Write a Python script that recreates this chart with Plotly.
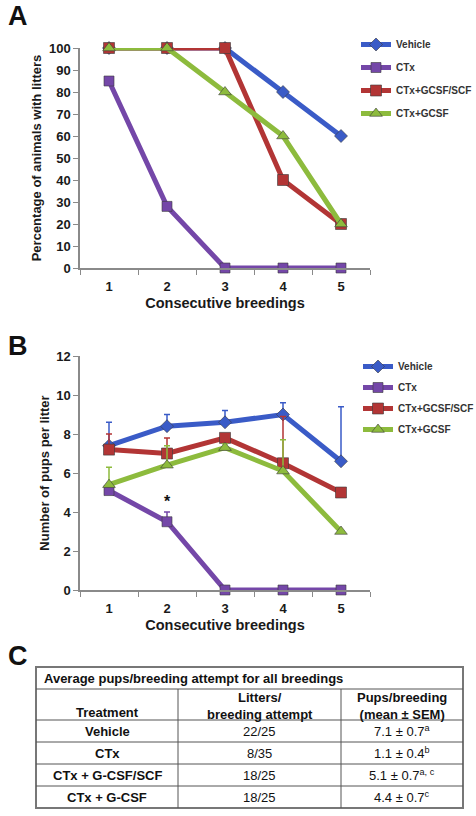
import plotly.graph_objects as go

# ---------------- data ----------------
breedings = [1, 2, 3, 4, 5]
series_names = ["Vehicle", "CTx", "CTx+GCSF/SCF", "CTx+GCSF"]

pct_vehicle = [100, 100, 100, 80, 60]
pct_ctx = [85, 28, 0, 0, 0]
pct_gcsf_scf = [100, 100, 100, 40, 20]
pct_gcsf = [100, 100, 80, 60, 20]

pups_vehicle = [7.4, 8.4, 8.6, 9.0, 6.6]
pups_vehicle_err = [1.2, 0.6, 0.6, 0.6, 2.8]
pups_ctx = [5.1, 3.5, 0, 0, 0]
pups_ctx_err = [0.0, 0.5, 0, 0, 0]
pups_gcsf_scf = [7.2, 7.0, 7.8, 6.5, 5.0]
pups_gcsf_scf_err = [0.8, 0.8, 0.2, 2.4, 0.0]
pups_gcsf = [5.4, 6.4, 7.3, 6.1, 3.0]
pups_gcsf_err = [0.9, 1.0, 0.2, 1.6, 0.0]

table_title = "Average pups/breeding attempt for all breedings"
table_headers = ["Treatment", "Litters/<br>breeding attempt", "Pups/breeding<br>(mean ± SEM)"]
table_treatments = ["Vehicle", "CTx", "CTx + G-CSF/SCF", "CTx + G-CSF"]
table_litters = ["22/25", "8/35", "18/25", "18/25"]
table_pups = ["7.1 ± 0.7", "1.1 ± 0.4", "5.1 ± 0.7", "4.4 ± 0.7"]
table_sup = ["a", "b", "a, c", "c"]

# ---------------- style ----------------
W, H = 476, 816
FONT = "Arial, Liberation Sans, sans-serif"
colors = ["#3a5bc7", "#7447a8", "#b23535", "#8dbb3d"]
symbols = ["diamond", "square", "square", "triangle-up"]
sizes = [10, 10, 11, 11]


def px(x):
    return x / W


def py(y):
    return 1 - y / H


fig = go.Figure()

pct_sets = [pct_vehicle, pct_ctx, pct_gcsf_scf, pct_gcsf]
pup_sets = [pups_vehicle, pups_ctx, pups_gcsf_scf, pups_gcsf]
err_sets = [pups_vehicle_err, pups_ctx_err, pups_gcsf_scf_err, pups_gcsf_err]

for i, name in enumerate(series_names):
    fig.add_trace(go.Scatter(
        x=breedings, y=pct_sets[i], name=name, mode="lines+markers",
        line=dict(color=colors[i], width=5),
        marker=dict(symbol=symbols[i], size=sizes[i], color=colors[i],
                    line=dict(color="rgba(60,60,60,0.6)", width=1)),
        cliponaxis=False, xaxis="x", yaxis="y", legend="legend",
        legendgroup="a" + str(i),
    ))

for i, name in enumerate(series_names):
    fig.add_trace(go.Scatter(
        x=breedings, y=pup_sets[i], name=name, mode="lines+markers",
        line=dict(color=colors[i], width=5),
        marker=dict(symbol=symbols[i], size=sizes[i], color=colors[i],
                    line=dict(color="rgba(60,60,60,0.6)", width=1)),
        error_y=dict(type="data", symmetric=False, array=err_sets[i],
                     arrayminus=[0] * 5, color=colors[i], thickness=1.5, width=3),
        cliponaxis=False, xaxis="x2", yaxis="y2", legend="legend2",
        legendgroup="b" + str(i),
    ))

axis_common = dict(
    showline=True, linecolor="#8a8a8a", linewidth=1.5, showgrid=False,
    zeroline=False, automargin=False,
    tickfont=dict(family=FONT, size=13, color="#1a1a1a", weight="bold"),
)

xaxis_common = dict(
    axis_common, range=[0.5, 5.5], tickmode="array", tickvals=breedings,
    ticktext=[str(b) for b in breedings],
    ticks="", ticklen=0, ticklabelstandoff=6,
    minor=dict(tickmode="array", tickvals=[0.5, 1.5, 2.5, 3.5, 4.5, 5.5],
               ticks="outside", ticklen=5, tickcolor="#8a8a8a", tickwidth=1),
    title=dict(text="Consecutive breedings",
               font=dict(family=FONT, size=14.5, color="#1a1a1a", weight="bold"),
               standoff=5),
)

leg_font = dict(family=FONT, size=10, color="#333", weight="bold")

fig.update_layout(
    width=W, height=H,
    margin=dict(l=0, r=0, t=0, b=0, pad=0, autoexpand=False),
    paper_bgcolor="white", plot_bgcolor="white",
    font=dict(family=FONT),
    xaxis=dict(xaxis_common, domain=[px(80), px(370)], anchor="y"),
    yaxis=dict(axis_common, domain=[py(268), py(48)], range=[0, 100],
               tickvals=list(range(0, 101, 10)), ticks="outside", ticklen=5,
               tickcolor="#8a8a8a", anchor="x",
               title=dict(text="Percentage of animals with litters",
                          font=dict(family=FONT, size=13, color="#1a1a1a",
                                    weight="bold"),
                          standoff=4)),
    xaxis2=dict(xaxis_common, domain=[px(80), px(370)], anchor="y2"),
    yaxis2=dict(axis_common, domain=[py(590), py(356)], range=[0, 12],
                tickvals=list(range(0, 13, 2)), ticks="outside", ticklen=5,
                tickcolor="#8a8a8a", anchor="x2",
                title=dict(text="Number of pups per litter",
                           font=dict(family=FONT, size=13, color="#1a1a1a",
                                     weight="bold"),
                           standoff=4)),
    legend=dict(x=px(356), y=py(30), xanchor="left", yanchor="top",
                font=leg_font, bgcolor="rgba(0,0,0,0)", tracegroupgap=4,
                itemwidth=30, traceorder="grouped"),
    legend2=dict(x=px(358), y=py(352), xanchor="left", yanchor="top",
                 font=leg_font, bgcolor="rgba(0,0,0,0)", tracegroupgap=2,
                 itemwidth=30, traceorder="grouped"),
)

# significance star
fig.add_annotation(x=2, y=4.55, xref="x2", yref="y2", text="<b>*</b>",
                   showarrow=False, font=dict(family=FONT, size=16, color="#111"))

# panel letters
for letter, yy in [("A", 16), ("B", 346), ("C", 656)]:
    fig.add_annotation(x=px(6), y=py(yy), xref="paper", yref="paper",
                       text="<b>%s</b>" % letter, showarrow=False,
                       xanchor="left", yanchor="middle",
                       font=dict(family=FONT, size=27, color="#111"))

# ---------------- table C ----------------
tx0, tx1 = 36, 463
col_x = [36, 178, 341, 463]
row_y = [667, 689, 720, 742, 764, 786, 808]
line_col = "#555"

fig.add_shape(type="rect", xref="paper", yref="paper",
              x0=px(tx0), x1=px(tx1), y0=py(row_y[0]), y1=py(row_y[-1]),
              line=dict(color="#777", width=2))
for yy in row_y[1:-1]:
    fig.add_shape(type="line", xref="paper", yref="paper",
                  x0=px(tx0), x1=px(tx1), y0=py(yy), y1=py(yy),
                  line=dict(color=line_col, width=1))
for xx in col_x[1:-1]:
    fig.add_shape(type="line", xref="paper", yref="paper",
                  x0=px(xx), x1=px(xx), y0=py(row_y[1]), y1=py(row_y[-1]),
                  line=dict(color=line_col, width=1))

tfont = dict(family=FONT, size=13, color="#111")
fig.add_annotation(x=px(42), y=py((row_y[0] + row_y[1]) / 2), xref="paper",
                   yref="paper", text="<b>%s</b>" % table_title, showarrow=False,
                   xanchor="left", yanchor="middle", font=tfont)

centers = [(col_x[i] + col_x[i + 1]) / 2 for i in range(3)]
# headers
fig.add_annotation(x=px(centers[0]), y=py(712), xref="paper", yref="paper",
                   text="<b>%s</b>" % table_headers[0], showarrow=False,
                   xanchor="center", yanchor="middle", font=tfont)
for j in (1, 2):
    fig.add_annotation(x=px(centers[j]), y=py((row_y[1] + row_y[2]) / 2 + 1),
                       xref="paper", yref="paper",
                       text="<b>%s</b>" % table_headers[j], showarrow=False,
                       xanchor="center", yanchor="middle", font=tfont)
# body
for r in range(4):
    yc = py((row_y[2 + r] + row_y[3 + r]) / 2)
    fig.add_annotation(x=px(centers[0]), y=yc, xref="paper", yref="paper",
                       text="<b>%s</b>" % table_treatments[r], showarrow=False,
                       xanchor="center", yanchor="middle", font=tfont)
    fig.add_annotation(x=px(centers[1]), y=yc, xref="paper", yref="paper",
                       text=table_litters[r], showarrow=False,
                       xanchor="center", yanchor="middle", font=tfont)
    fig.add_annotation(x=px(centers[2]), y=yc, xref="paper", yref="paper",
                       text="%s<sup>%s</sup>" % (table_pups[r], table_sup[r]),
                       showarrow=False, xanchor="center", yanchor="middle",
                       font=tfont)

fig.write_html("out.html", config={"displayModeBar": False},
               post_script="document.body.style.margin='0';"
                           "document.body.style.overflow='hidden';")
